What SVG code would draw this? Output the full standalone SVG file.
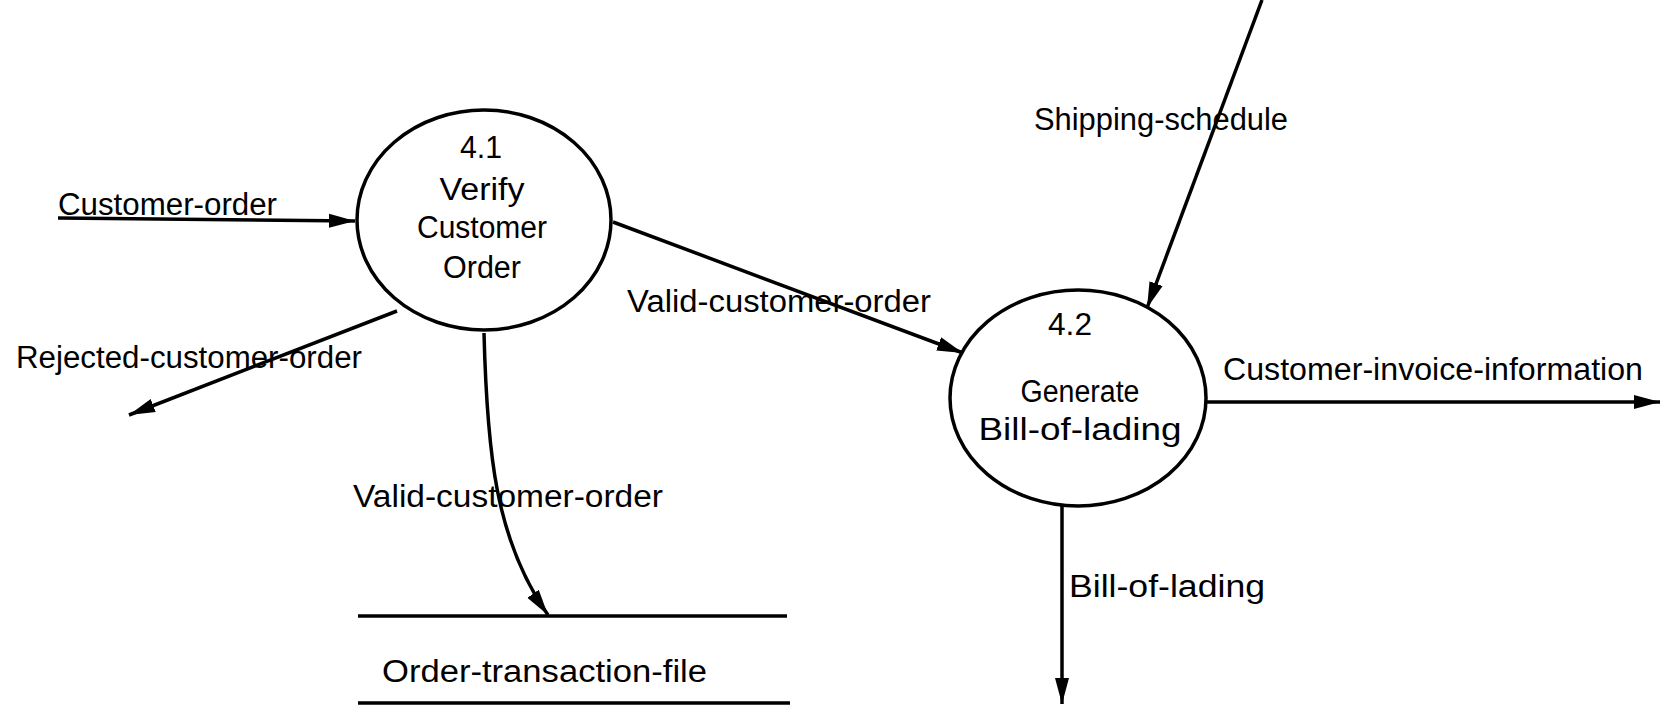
<svg xmlns="http://www.w3.org/2000/svg" width="1662" height="706" viewBox="0 0 1662 706">
<style>
  text { font-family: "Liberation Sans Narrow", "Liberation Sans", Arial, sans-serif; font-size: 31px; fill: #000; }
  .c { text-anchor: middle; }
  .proc { fill: #fff; stroke: #000; stroke-width: 3.5; }
  .flow { fill: none; stroke: #000; stroke-width: 3.5; }
  .store { stroke: #000; stroke-width: 3.5; }
</style>
<defs>
  <marker id="arr" markerUnits="userSpaceOnUse" markerWidth="28" markerHeight="16" refX="26" refY="8" orient="auto">
    <path d="M0,1 L26,8 L0,15 Z" fill="#000"/>
  </marker>
</defs>
<rect width="1662" height="706" fill="#fff"/>

<g id="connectors">
  <path class="flow" d="M58,218 L355,221" marker-end="url(#arr)"/>
  <path class="flow" d="M397,311 L129,415" marker-end="url(#arr)"/>
  <path class="flow" d="M613,222 L963,353" marker-end="url(#arr)"/>
  <path class="flow" d="M1262,0 L1147,308" marker-end="url(#arr)"/>
  <path class="flow" d="M484,333 C487,450 495,540 548,615" marker-end="url(#arr)"/>
  <path class="flow" d="M1207,402 L1660,402" marker-end="url(#arr)"/>
  <path class="flow" d="M1062,506 L1062,704" marker-end="url(#arr)"/>
  <text x="58" y="215" textLength="219" lengthAdjust="spacingAndGlyphs">Customer-order</text>
  <text x="16" y="368" textLength="346" lengthAdjust="spacingAndGlyphs">Rejected-customer-order</text>
  <text x="627" y="312" textLength="304" lengthAdjust="spacingAndGlyphs">Valid-customer-order</text>
  <text x="353" y="507" textLength="310" lengthAdjust="spacingAndGlyphs">Valid-customer-order</text>
  <text x="1034" y="130" textLength="254" lengthAdjust="spacingAndGlyphs">Shipping-schedule</text>
  <text x="1223" y="380" textLength="420" lengthAdjust="spacingAndGlyphs">Customer-invoice-information</text>
  <text x="1069" y="597" textLength="196" lengthAdjust="spacingAndGlyphs">Bill-of-lading</text>
</g>

<g id="node-4-1">
  <ellipse class="proc" cx="484" cy="220" rx="127" ry="110"/>
  <text class="c" x="481" y="158" textLength="42" lengthAdjust="spacingAndGlyphs">4.1</text>
  <text class="c" x="482" y="200" textLength="85" lengthAdjust="spacingAndGlyphs">Verify</text>
  <text class="c" x="482" y="238" textLength="130" lengthAdjust="spacingAndGlyphs">Customer</text>
  <text class="c" x="482" y="278" textLength="78" lengthAdjust="spacingAndGlyphs">Order</text>
</g>

<g id="node-4-2">
  <ellipse class="proc" cx="1078" cy="398" rx="128" ry="108"/>
  <text class="c" x="1070" y="335" textLength="44" lengthAdjust="spacingAndGlyphs">4.2</text>
  <text class="c" x="1080" y="402" textLength="119" lengthAdjust="spacingAndGlyphs">Generate</text>
  <text class="c" x="1080" y="440" textLength="203" lengthAdjust="spacingAndGlyphs">Bill-of-lading</text>
</g>

<g id="store-order-transaction-file">
  <line class="store" x1="358" y1="616" x2="787" y2="616"/>
  <line class="store" x1="358" y1="703" x2="790" y2="703"/>
  <text x="382" y="682" textLength="325" lengthAdjust="spacingAndGlyphs">Order-transaction-file</text>
</g>
</svg>
